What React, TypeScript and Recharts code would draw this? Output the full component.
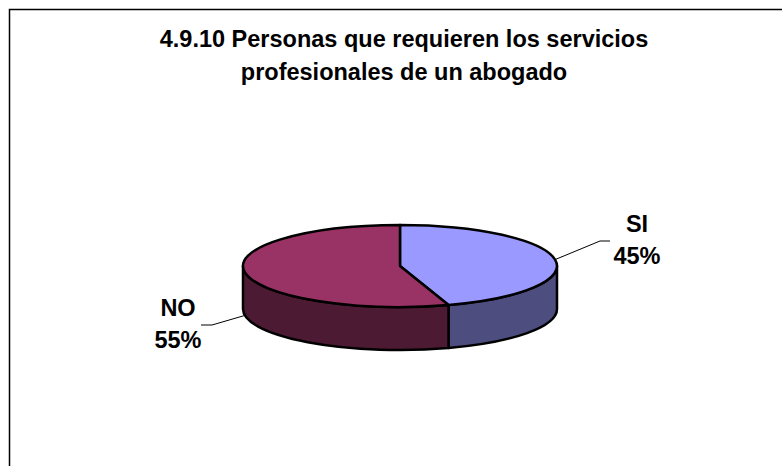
import { PieChart, Pie } from "recharts";

const categories = ["SI", "NO"];
const values = [45, 55];
const titleLines = [
  "4.9.10 Personas que requieren los servicios",
  "profesionales de un abogado",
];

const TOP_COLORS = ["#9999FF", "#993366"];
const SIDE_COLORS = ["#4D4D80", "#4D1A33"];

const WIDTH = 782;
const HEIGHT = 466;
const CX = 400;
const CY = 266;
const RX = 157;
const RY = 41;
const DEPTH = 43;
const FONT = "'Liberation Sans', Arial, sans-serif";

const data = categories.map((name, i) => ({
  name,
  value: values[i],
  fill: TOP_COLORS[i],
  side: SIDE_COLORS[i],
}));

// recharts angles are counter clockwise from 3 o'clock, the pie is squashed here
const ex = (angle: number) => CX + RX * Math.cos((angle * Math.PI) / 180);
const ey = (angle: number) => CY - RY * Math.sin((angle * Math.PI) / 180);

function TopFace(props: any) {
  const { startAngle, endAngle, payload } = props;
  const large = Math.abs(endAngle - startAngle) > 180 ? 1 : 0;
  const sweep = startAngle > endAngle ? 1 : 0;
  const d = `M${CX},${CY} L${ex(startAngle)},${ey(startAngle)} A${RX},${RY} 0 ${large} ${sweep} ${ex(endAngle)},${ey(endAngle)} Z`;
  return <path d={d} fill={payload.fill} stroke="#000" strokeWidth={2.5} strokeLinejoin="round" />;
}

// only the part of the rim in the front half gets a wall
function SideWall(props: any) {
  const { startAngle, endAngle, payload } = props;
  const from = Math.min(startAngle, 0);
  const to = Math.max(endAngle, -180);
  if (from <= to) return null;
  const d =
    `M${ex(from)},${ey(from)} A${RX},${RY} 0 0 1 ${ex(to)},${ey(to)} ` +
    `L${ex(to)},${ey(to) + DEPTH} A${RX},${RY} 0 0 0 ${ex(from)},${ey(from) + DEPTH} Z`;
  return <path d={d} fill={payload.side} stroke="#000" strokeWidth={2.5} strokeLinejoin="round" />;
}

function renderLabel(props: any) {
  const { midAngle, name, percent } = props;
  const right = Math.cos((midAngle * Math.PI) / 180) > 0;
  const x = right ? 637 : 178;
  const y = right ? 232 : 316;
  return (
    <text
      x={x}
      y={y}
      textAnchor="middle"
      fontFamily={FONT}
      fontWeight="bold"
      fontSize={23.5}
      fill="#000"
    >
      <tspan x={x}>{name}</tspan>
      <tspan x={x} dy={32}>{`${Math.round(percent * 100)}%`}</tspan>
    </text>
  );
}

function renderLabelLine(props: any) {
  const { midAngle } = props;
  const right = Math.cos((midAngle * Math.PI) / 180) > 0;
  const x0 = ex(midAngle);
  const y0 = ey(midAngle) + (right ? 0 : DEPTH);
  const points = right
    ? `${x0},${y0} 600,241 610,241`
    : `${x0},${y0} 212,325 201,325`;
  return <polyline points={points} fill="none" stroke="#000" strokeWidth={1} />;
}

export default function App() {
  return (
    <div style={{ position: "absolute", left: 0, top: 0, width: WIDTH, height: HEIGHT, background: "#fff" }}>
      <PieChart width={WIDTH} height={HEIGHT} margin={{ top: 0, right: 0, bottom: 0, left: 0 }}>
        {/* chart frame, open on the right and bottom of the crop */}
        <polyline points={`9.5,${HEIGHT} 9.5,9.5 ${WIDTH},9.5`} fill="none" stroke="#000" strokeWidth={1.5} />
        {titleLines.map((line, i) => (
          <text
            key={line}
            x={404}
            y={47 + i * 33}
            textAnchor="middle"
            fontFamily={FONT}
            fontWeight="bold"
            fontSize={23.5}
            fill="#000"
          >
            {line}
          </text>
        ))}
        <Pie
          data={data}
          dataKey="value"
          nameKey="name"
          cx={CX}
          cy={CY}
          outerRadius={RX}
          startAngle={90}
          endAngle={-270}
          shape={SideWall}
          isAnimationActive={false}
        />
        <Pie
          data={data}
          dataKey="value"
          nameKey="name"
          cx={CX}
          cy={CY}
          outerRadius={RX}
          startAngle={90}
          endAngle={-270}
          shape={TopFace}
          label={renderLabel}
          labelLine={renderLabelLine}
          isAnimationActive={false}
        />
      </PieChart>
    </div>
  );
}
